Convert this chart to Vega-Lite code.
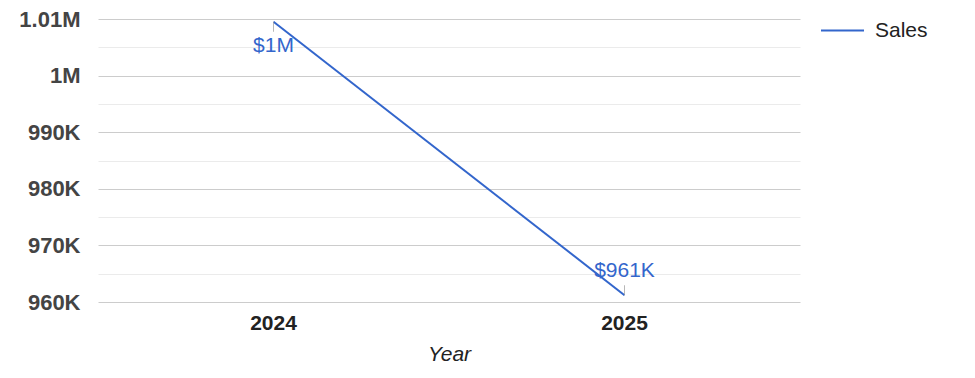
{
  "$schema": "https://vega.github.io/schema/vega-lite/v6.json",
  "width": 702,
  "height": 283,
  "autosize": "none",
  "padding": {"left": 98, "top": 19, "right": 175, "bottom": 76},
  "config": {"font": "Liberation Sans", "view": {"stroke": null}},
  "data": {"values": [
    {"Year": "2024", "Sales": 1009500, "series": "Sales", "label": "$1M"},
    {"Year": "2025", "Sales": 961200, "series": "Sales", "label": "$961K"}
  ]},
  "encoding": {
    "x": {"field": "Year", "type": "ordinal",
      "scale": {"paddingInner": 0, "paddingOuter": 0},
      "axis": {"labelAngle": 0, "labelFontSize": 21, "labelFontWeight": "bold", "labelColor": "#222222",
        "ticks": false, "domain": false, "labelPadding": 10,
        "title": "Year", "titleFontSize": 21, "titleFontStyle": "italic", "titleFontWeight": "normal", "titleColor": "#222222", "titlePadding": 10}},
    "y": {"field": "Sales", "type": "quantitative",
      "scale": {"domain": [960000, 1010000], "zero": false, "nice": false},
      "axis": {"values": [960000, 965000, 970000, 975000, 980000, 985000, 990000, 995000, 1000000, 1005000, 1010000],
        "labelExpr": "datum.value % 10000 != 0 ? '' : (datum.value >= 1000000 ? format(datum.value/1000000, '~g') + 'M' : format(datum.value/1000, '~g') + 'K')",
        "labelFontSize": 22, "labelFontWeight": "bold", "labelColor": "#444444", "labelPadding": 18,
        "ticks": false, "domain": false, "title": null,
        "gridColor": {"condition": {"test": "datum.value % 10000 == 0", "value": "#cccccc"}, "value": "#ebebeb"}}}
  },
  "layer": [
    {"mark": {"type": "line", "strokeWidth": 2},
     "encoding": {"color": {"field": "series", "type": "nominal", "scale": {"range": ["#3366cc"]},
       "legend": {"title": null, "orient": "none", "legendX": 722, "legendY": -11,
         "symbolType": "stroke", "symbolSize": 1849, "symbolStrokeWidth": 2,
         "labelFontSize": 21, "labelColor": "#222222", "labelOffset": 10}}}},
    {"transform": [{"filter": "datum.Year == '2024'"}],
     "mark": {"type": "tick", "orient": "vertical", "size": 10, "thickness": 1, "color": "#999999", "yOffset": 5}},
    {"transform": [{"filter": "datum.Year == '2025'"}],
     "mark": {"type": "tick", "orient": "vertical", "size": 10, "thickness": 1, "color": "#999999", "yOffset": -5}},
    {"transform": [{"filter": "datum.Year == '2024'"}],
     "mark": {"type": "text", "fontSize": 21, "color": "#3366cc", "dy": 24, "baseline": "middle"},
     "encoding": {"text": {"field": "label"}}},
    {"transform": [{"filter": "datum.Year == '2025'"}],
     "mark": {"type": "text", "fontSize": 21, "color": "#3366cc", "dy": -24, "baseline": "middle"},
     "encoding": {"text": {"field": "label"}}}
  ]
}
